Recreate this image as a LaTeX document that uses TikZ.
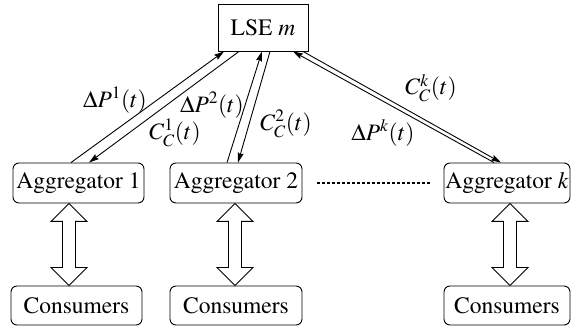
\documentclass[tikz,border=0pt]{standalone}
\usepackage[T1]{fontenc}
\usepackage{mathptmx}
\usetikzlibrary{calc,arrows.meta}
\begin{document}
\begin{tikzpicture}[x=1pt,y=-1pt,
  txt/.style={font=\fontsize{23.5}{27}\selectfont},
  rbox/.style={draw,line width=0.9pt,rounded corners=6pt,minimum height=40pt,inner sep=0pt,txt},
  sbox/.style={draw,line width=0.9pt,minimum width=90pt,minimum height=47pt,inner sep=0pt,txt},
  conn/.style={line width=0.9pt,-{Stealth[length=10pt,width=6pt,inset=1.5pt]}},
  lab/.style={inner sep=0pt,txt},
  hollow/.style={draw,line width=0.9pt,fill=white}
]
\useasboundingbox (0,0) rectangle (572,328);

\node[sbox] (lse) at (263,27.5) {LSE $m$};

\node[rbox,minimum width=131pt] (a1) at (78.5,183) {Aggregator 1};
\node[rbox,minimum width=132pt] (a2) at (236,183) {Aggregator 2};
\node[rbox,minimum width=126pt] (ak) at (507,183) {Aggregator $k$};

\node[rbox,minimum width=131pt,minimum height=39pt] (c1) at (76.5,305.5) {Consumers};
\node[rbox,minimum width=132pt,minimum height=39pt] (c2) at (236,305.5) {Consumers};
\node[rbox,minimum width=126pt,minimum height=39pt] (ck) at (507,305.5) {Consumers};

% connectors LSE <-> aggregators
\draw[conn] ([xshift=-7.5pt]a1.north) -- ([xshift=-39pt]lse.south);
\draw[conn] ([xshift=-24pt]lse.south) -- ([xshift=10.5pt]a1.north);
\draw[conn] ([xshift=-9pt]a2.north) -- ([xshift=-1pt]lse.south);
\draw[conn] ([xshift=7pt]lse.south) -- ([xshift=2pt]a2.north);
\draw[conn] ([xshift=-13pt]ak.north) -- ([xshift=30pt]lse.south);
\draw[conn] ([xshift=40pt]lse.south) -- ([xshift=-6pt]ak.north);

% labels
\node[lab] (l1) at (115,100) {$\Delta P^{1}(t)$};
\node[lab] (l2) at (175,133) {$C_C^{1}(t)$};
\node[lab] (l3) at (212,105) {$\Delta P^{2}(t)$};
\node[lab] (l4) at (286,124) {$C_C^{2}(t)$};
\node[lab] (l5) at (431,88) {$C_C^{k}(t)$};
\node[lab] (l6) at (383,133) {$\Delta P^{k}(t)$};

% dotted link between aggregators
\draw[line width=1.4pt,dash pattern=on 3pt off 2pt] ([xshift=15pt]a2.east) -- ([xshift=-14pt]ak.west);

% hollow double arrows
\foreach \a/\c/\s in {a1/c1/-9.5, a2/c2/-1, ak/ck/3}{
  \path[hollow] let \p1=([xshift=\s pt]\a.south), \p2=([xshift=\s pt]\c.north) in
    (\x1,\y1) -- (\x1-18pt,\y1-18pt) -- (\x1-6.5pt,\y1-18pt) -- (\x1-6.5pt,\y2+18pt)
    -- (\x1-18pt,\y2+18pt) -- (\x1,\y2) -- (\x1+18pt,\y2+18pt) -- (\x1+6.5pt,\y2+18pt)
    -- (\x1+6.5pt,\y1-18pt) -- (\x1+18pt,\y1-18pt) -- cycle;
}
\end{tikzpicture}
\end{document}
